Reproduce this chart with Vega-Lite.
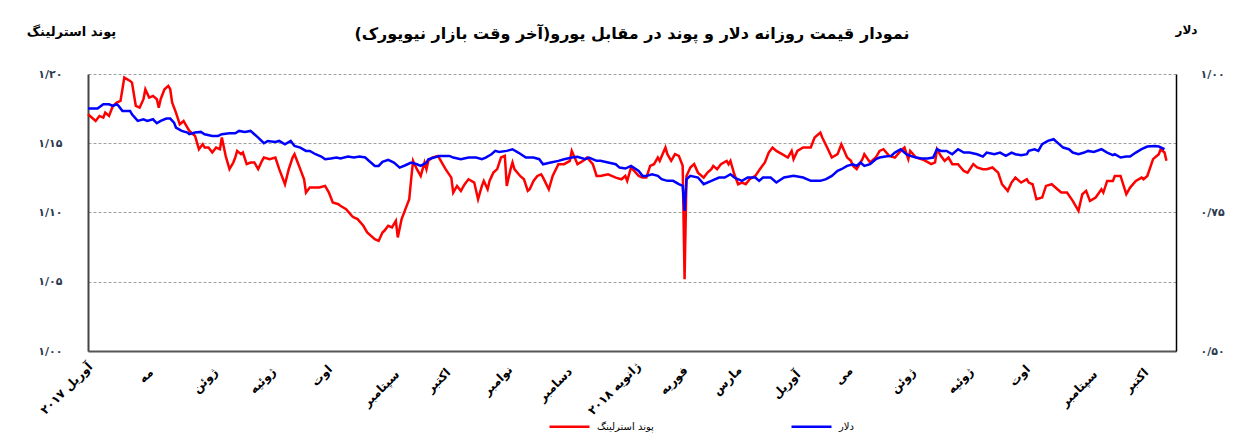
{
  "$schema": "https://vega.github.io/schema/vega-lite/v6.json",
  "width": 1088,
  "height": 277,
  "autosize": "none",
  "padding": {"left": 88, "top": 74, "right": 76, "bottom": 88},
  "background": "white",
  "config": {"view": {"stroke": null}, "font": "DejaVu Sans"},
  "title": {
    "text": "نمودار قیمت روزانه  دلار و پوند در مقابل یورو(آخر وقت بازار نیویورک)",
    "anchor": "middle", "frame": "group", "fontSize": 16, "fontWeight": "bold",
    "font": "DejaVu Sans", "color": "#000000", "offset": -19
  },
  "datasets": {
    "gbp": [
      {"date":"2017-04-01","value":1.1709},{"date":"2017-04-05","value":1.1661},{"date":"2017-04-07","value":1.1697},{"date":"2017-04-09","value":1.1685},{"date":"2017-04-10","value":1.1721},{"date":"2017-04-12","value":1.1697},{"date":"2017-04-14","value":1.1769},{"date":"2017-04-16","value":1.1794},{"date":"2017-04-18","value":1.1806},{"date":"2017-04-20","value":1.1974},{"date":"2017-04-23","value":1.1950},{"date":"2017-04-24","value":1.1938},{"date":"2017-04-26","value":1.1769},{"date":"2017-04-28","value":1.1757},{"date":"2017-04-30","value":1.1818},
      {"date":"2017-05-01","value":1.1890},{"date":"2017-05-03","value":1.1830},{"date":"2017-05-05","value":1.1842},{"date":"2017-05-07","value":1.1818},{"date":"2017-05-08","value":1.1757},{"date":"2017-05-09","value":1.1818},{"date":"2017-05-11","value":1.1890},{"date":"2017-05-13","value":1.1914},{"date":"2017-05-14","value":1.1890},{"date":"2017-05-15","value":1.1794},{"date":"2017-05-17","value":1.1721},{"date":"2017-05-19","value":1.1637},{"date":"2017-05-21","value":1.1661},{"date":"2017-05-22","value":1.1637},{"date":"2017-05-24","value":1.1589},{"date":"2017-05-26","value":1.1565},{"date":"2017-05-27","value":1.1553},{"date":"2017-05-29","value":1.1457},{"date":"2017-05-31","value":1.1493},
      {"date":"2017-06-01","value":1.1469},{"date":"2017-06-03","value":1.1469},{"date":"2017-06-05","value":1.1433},{"date":"2017-06-07","value":1.1469},{"date":"2017-06-09","value":1.1457},{"date":"2017-06-10","value":1.1541},{"date":"2017-06-12","value":1.1409},{"date":"2017-06-14","value":1.1313},{"date":"2017-06-16","value":1.1361},{"date":"2017-06-17","value":1.1397},{"date":"2017-06-18","value":1.1445},{"date":"2017-06-20","value":1.1421},{"date":"2017-06-21","value":1.1433},{"date":"2017-06-23","value":1.1349},{"date":"2017-06-25","value":1.1361},{"date":"2017-06-27","value":1.1361},{"date":"2017-06-29","value":1.1313},
      {"date":"2017-07-01","value":1.1373},{"date":"2017-07-02","value":1.1397},{"date":"2017-07-05","value":1.1385},{"date":"2017-07-08","value":1.1397},{"date":"2017-07-10","value":1.1313},{"date":"2017-07-13","value":1.1204},{"date":"2017-07-15","value":1.1313},{"date":"2017-07-17","value":1.1397},{"date":"2017-07-18","value":1.1421},{"date":"2017-07-21","value":1.1313},{"date":"2017-07-23","value":1.1240},{"date":"2017-07-24","value":1.1144},{"date":"2017-07-26","value":1.1180},{"date":"2017-07-31","value":1.1180},
      {"date":"2017-08-03","value":1.1192},{"date":"2017-08-05","value":1.1144},{"date":"2017-08-07","value":1.1072},{"date":"2017-08-10","value":1.1060},{"date":"2017-08-11","value":1.1048},{"date":"2017-08-14","value":1.1024},{"date":"2017-08-17","value":1.0976},{"date":"2017-08-18","value":1.0964},{"date":"2017-08-20","value":1.0952},{"date":"2017-08-23","value":1.0904},{"date":"2017-08-25","value":1.0856},{"date":"2017-08-29","value":1.0807},{"date":"2017-08-31","value":1.0795},
      {"date":"2017-09-02","value":1.0856},{"date":"2017-09-03","value":1.0868},{"date":"2017-09-05","value":1.0904},{"date":"2017-09-07","value":1.0892},{"date":"2017-09-09","value":1.0940},{"date":"2017-09-10","value":1.0820},{"date":"2017-09-12","value":1.0952},{"date":"2017-09-14","value":1.1024},{"date":"2017-09-16","value":1.1096},{"date":"2017-09-17","value":1.1240},{"date":"2017-09-18","value":1.1373},{"date":"2017-09-20","value":1.1313},{"date":"2017-09-22","value":1.1264},{"date":"2017-09-24","value":1.1361},{"date":"2017-09-25","value":1.1313},{"date":"2017-09-26","value":1.1373},{"date":"2017-09-28","value":1.1397},
      {"date":"2017-10-01","value":1.1409},{"date":"2017-10-02","value":1.1385},{"date":"2017-10-05","value":1.1313},{"date":"2017-10-08","value":1.1252},{"date":"2017-10-09","value":1.1144},{"date":"2017-10-11","value":1.1192},{"date":"2017-10-13","value":1.1156},{"date":"2017-10-15","value":1.1204},{"date":"2017-10-17","value":1.1240},{"date":"2017-10-20","value":1.1216},{"date":"2017-10-22","value":1.1096},{"date":"2017-10-24","value":1.1192},{"date":"2017-10-25","value":1.1228},{"date":"2017-10-27","value":1.1168},{"date":"2017-10-28","value":1.1228},{"date":"2017-10-30","value":1.1288},
      {"date":"2017-11-01","value":1.1313},{"date":"2017-11-03","value":1.1397},{"date":"2017-11-05","value":1.1409},{"date":"2017-11-06","value":1.1192},{"date":"2017-11-08","value":1.1313},{"date":"2017-11-09","value":1.1361},{"date":"2017-11-10","value":1.1313},{"date":"2017-11-13","value":1.1264},{"date":"2017-11-15","value":1.1240},{"date":"2017-11-17","value":1.1156},{"date":"2017-11-18","value":1.1168},{"date":"2017-11-20","value":1.1228},{"date":"2017-11-22","value":1.1264},{"date":"2017-11-24","value":1.1276},{"date":"2017-11-25","value":1.1252},{"date":"2017-11-28","value":1.1168},{"date":"2017-11-30","value":1.1264},
      {"date":"2017-12-03","value":1.1349},{"date":"2017-12-06","value":1.1349},{"date":"2017-12-09","value":1.1373},{"date":"2017-12-10","value":1.1445},{"date":"2017-12-13","value":1.1349},{"date":"2017-12-16","value":1.1373},{"date":"2017-12-18","value":1.1397},{"date":"2017-12-21","value":1.1349},{"date":"2017-12-23","value":1.1264},{"date":"2017-12-25","value":1.1264},{"date":"2017-12-29","value":1.1276},
      {"date":"2018-01-02","value":1.1252},{"date":"2018-01-05","value":1.1240},{"date":"2018-01-07","value":1.1264},{"date":"2018-01-08","value":1.1228},{"date":"2018-01-10","value":1.1325},{"date":"2018-01-14","value":1.1264},{"date":"2018-01-16","value":1.1252},{"date":"2018-01-18","value":1.1252},{"date":"2018-01-20","value":1.1337},{"date":"2018-01-22","value":1.1349},{"date":"2018-01-24","value":1.1397},{"date":"2018-01-25","value":1.1373},{"date":"2018-01-28","value":1.1469},{"date":"2018-01-29","value":1.1421},{"date":"2018-01-31","value":1.1373},
      {"date":"2018-02-02","value":1.1421},{"date":"2018-02-04","value":1.1409},{"date":"2018-02-06","value":1.1337},{"date":"2018-02-07","value":1.0519},{"date":"2018-02-08","value":1.1264},{"date":"2018-02-10","value":1.1325},{"date":"2018-02-12","value":1.1349},{"date":"2018-02-14","value":1.1288},{"date":"2018-02-17","value":1.1252},{"date":"2018-02-19","value":1.1288},{"date":"2018-02-21","value":1.1313},{"date":"2018-02-22","value":1.1337},{"date":"2018-02-24","value":1.1313},{"date":"2018-02-26","value":1.1349},
      {"date":"2018-03-01","value":1.1373},{"date":"2018-03-02","value":1.1349},{"date":"2018-03-03","value":1.1373},{"date":"2018-03-05","value":1.1276},{"date":"2018-03-07","value":1.1204},{"date":"2018-03-09","value":1.1216},{"date":"2018-03-11","value":1.1204},{"date":"2018-03-13","value":1.1240},{"date":"2018-03-16","value":1.1264},{"date":"2018-03-19","value":1.1325},{"date":"2018-03-21","value":1.1361},{"date":"2018-03-23","value":1.1433},{"date":"2018-03-25","value":1.1469},{"date":"2018-03-27","value":1.1445},{"date":"2018-03-30","value":1.1421},
      {"date":"2018-04-02","value":1.1397},{"date":"2018-04-04","value":1.1445},{"date":"2018-04-05","value":1.1385},{"date":"2018-04-07","value":1.1445},{"date":"2018-04-10","value":1.1469},{"date":"2018-04-14","value":1.1469},{"date":"2018-04-16","value":1.1541},{"date":"2018-04-19","value":1.1577},{"date":"2018-04-20","value":1.1541},{"date":"2018-04-23","value":1.1457},{"date":"2018-04-25","value":1.1397},{"date":"2018-04-28","value":1.1421},{"date":"2018-04-30","value":1.1493},
      {"date":"2018-05-03","value":1.1397},{"date":"2018-05-05","value":1.1373},{"date":"2018-05-06","value":1.1337},{"date":"2018-05-08","value":1.1313},{"date":"2018-05-11","value":1.1385},{"date":"2018-05-12","value":1.1421},{"date":"2018-05-15","value":1.1361},{"date":"2018-05-18","value":1.1397},{"date":"2018-05-20","value":1.1445},{"date":"2018-05-22","value":1.1457},{"date":"2018-05-25","value":1.1409},{"date":"2018-05-28","value":1.1397},{"date":"2018-05-31","value":1.1445},
      {"date":"2018-06-02","value":1.1469},{"date":"2018-06-04","value":1.1385},{"date":"2018-06-05","value":1.1445},{"date":"2018-06-08","value":1.1397},{"date":"2018-06-11","value":1.1385},{"date":"2018-06-13","value":1.1373},{"date":"2018-06-16","value":1.1349},{"date":"2018-06-18","value":1.1361},{"date":"2018-06-19","value":1.1457},{"date":"2018-06-21","value":1.1409},{"date":"2018-06-23","value":1.1373},{"date":"2018-06-25","value":1.1397},{"date":"2018-06-27","value":1.1349},{"date":"2018-06-30","value":1.1349},
      {"date":"2018-07-03","value":1.1300},{"date":"2018-07-05","value":1.1288},{"date":"2018-07-08","value":1.1349},{"date":"2018-07-10","value":1.1325},{"date":"2018-07-13","value":1.1313},{"date":"2018-07-15","value":1.1313},{"date":"2018-07-18","value":1.1325},{"date":"2018-07-21","value":1.1288},{"date":"2018-07-23","value":1.1204},{"date":"2018-07-26","value":1.1156},{"date":"2018-07-28","value":1.1216},{"date":"2018-07-30","value":1.1252},
      {"date":"2018-08-02","value":1.1216},{"date":"2018-08-05","value":1.1240},{"date":"2018-08-06","value":1.1216},{"date":"2018-08-08","value":1.1204},{"date":"2018-08-10","value":1.1096},{"date":"2018-08-13","value":1.1108},{"date":"2018-08-15","value":1.1192},{"date":"2018-08-18","value":1.1204},{"date":"2018-08-21","value":1.1168},{"date":"2018-08-23","value":1.1144},{"date":"2018-08-26","value":1.1144},{"date":"2018-08-29","value":1.1084},
      {"date":"2018-09-01","value":1.1012},{"date":"2018-09-03","value":1.1132},{"date":"2018-09-05","value":1.1156},{"date":"2018-09-07","value":1.1084},{"date":"2018-09-10","value":1.1108},{"date":"2018-09-13","value":1.1168},{"date":"2018-09-14","value":1.1144},{"date":"2018-09-16","value":1.1228},{"date":"2018-09-19","value":1.1228},{"date":"2018-09-20","value":1.1264},{"date":"2018-09-23","value":1.1264},{"date":"2018-09-26","value":1.1132},{"date":"2018-09-28","value":1.1180},
      {"date":"2018-10-01","value":1.1228},{"date":"2018-10-04","value":1.1252},{"date":"2018-10-05","value":1.1240},{"date":"2018-10-07","value":1.1264},{"date":"2018-10-10","value":1.1385},{"date":"2018-10-13","value":1.1421},{"date":"2018-10-14","value":1.1457},{"date":"2018-10-16","value":1.1433},{"date":"2018-10-17","value":1.1373}
    ],
    "usd": [
      {"date":"2017-04-01","value":0.9376},{"date":"2017-04-06","value":0.9376},{"date":"2017-04-09","value":0.9454},{"date":"2017-04-12","value":0.9454},{"date":"2017-04-14","value":0.9424},{"date":"2017-04-16","value":0.9454},{"date":"2017-04-17","value":0.9424},{"date":"2017-04-19","value":0.9333},{"date":"2017-04-23","value":0.9333},{"date":"2017-04-24","value":0.9273},{"date":"2017-04-27","value":0.9153},{"date":"2017-04-30","value":0.9183},
      {"date":"2017-05-02","value":0.9153},{"date":"2017-05-05","value":0.9183},{"date":"2017-05-07","value":0.9111},{"date":"2017-05-09","value":0.9153},{"date":"2017-05-12","value":0.9195},{"date":"2017-05-14","value":0.9195},{"date":"2017-05-16","value":0.9123},{"date":"2017-05-17","value":0.9033},{"date":"2017-05-20","value":0.8973},{"date":"2017-05-23","value":0.8943},{"date":"2017-05-24","value":0.8913},{"date":"2017-05-27","value":0.8943},{"date":"2017-05-30","value":0.8955},
      {"date":"2017-06-01","value":0.8913},{"date":"2017-06-05","value":0.8883},{"date":"2017-06-08","value":0.8883},{"date":"2017-06-10","value":0.8913},{"date":"2017-06-14","value":0.8931},{"date":"2017-06-17","value":0.8931},{"date":"2017-06-19","value":0.8973},{"date":"2017-06-22","value":0.8955},{"date":"2017-06-25","value":0.8973},{"date":"2017-06-27","value":0.8913},{"date":"2017-06-29","value":0.8852},
      {"date":"2017-07-02","value":0.8750},{"date":"2017-07-04","value":0.8792},{"date":"2017-07-08","value":0.8774},{"date":"2017-07-10","value":0.8792},{"date":"2017-07-13","value":0.8732},{"date":"2017-07-16","value":0.8792},{"date":"2017-07-18","value":0.8702},{"date":"2017-07-21","value":0.8672},{"date":"2017-07-24","value":0.8612},{"date":"2017-07-26","value":0.8612},{"date":"2017-07-29","value":0.8552},
      {"date":"2017-08-01","value":0.8510},{"date":"2017-08-03","value":0.8462},{"date":"2017-08-06","value":0.8474},{"date":"2017-08-09","value":0.8492},{"date":"2017-08-11","value":0.8474},{"date":"2017-08-15","value":0.8510},{"date":"2017-08-18","value":0.8492},{"date":"2017-08-21","value":0.8510},{"date":"2017-08-24","value":0.8492},{"date":"2017-08-25","value":0.8462},{"date":"2017-08-29","value":0.8341},{"date":"2017-08-31","value":0.8341},
      {"date":"2017-09-02","value":0.8414},{"date":"2017-09-05","value":0.8450},{"date":"2017-09-08","value":0.8402},{"date":"2017-09-11","value":0.8311},{"date":"2017-09-14","value":0.8353},{"date":"2017-09-17","value":0.8402},{"date":"2017-09-20","value":0.8371},{"date":"2017-09-22","value":0.8341},{"date":"2017-09-25","value":0.8402},{"date":"2017-09-26","value":0.8462},{"date":"2017-09-29","value":0.8492},
      {"date":"2017-10-02","value":0.8522},{"date":"2017-10-07","value":0.8522},{"date":"2017-10-09","value":0.8492},{"date":"2017-10-13","value":0.8462},{"date":"2017-10-17","value":0.8492},{"date":"2017-10-21","value":0.8492},{"date":"2017-10-24","value":0.8462},{"date":"2017-10-26","value":0.8492},{"date":"2017-10-29","value":0.8552},{"date":"2017-10-31","value":0.8612},
      {"date":"2017-11-02","value":0.8594},{"date":"2017-11-06","value":0.8612},{"date":"2017-11-09","value":0.8642},{"date":"2017-11-12","value":0.8582},{"date":"2017-11-16","value":0.8492},{"date":"2017-11-20","value":0.8492},{"date":"2017-11-23","value":0.8462},{"date":"2017-11-25","value":0.8371},{"date":"2017-11-29","value":0.8402},
      {"date":"2017-12-03","value":0.8432},{"date":"2017-12-06","value":0.8462},{"date":"2017-12-10","value":0.8492},{"date":"2017-12-13","value":0.8504},{"date":"2017-12-17","value":0.8462},{"date":"2017-12-19","value":0.8492},{"date":"2017-12-23","value":0.8432},{"date":"2017-12-25","value":0.8432},{"date":"2017-12-29","value":0.8402},
      {"date":"2018-01-02","value":0.8371},{"date":"2018-01-04","value":0.8311},{"date":"2018-01-07","value":0.8293},{"date":"2018-01-10","value":0.8341},{"date":"2018-01-14","value":0.8251},{"date":"2018-01-16","value":0.8161},{"date":"2018-01-18","value":0.8161},{"date":"2018-01-21","value":0.8191},{"date":"2018-01-24","value":0.8161},{"date":"2018-01-26","value":0.8101},{"date":"2018-01-29","value":0.8071},
      {"date":"2018-02-01","value":0.8071},{"date":"2018-02-04","value":0.8011},{"date":"2018-02-06","value":0.7981},{"date":"2018-02-07","value":0.7530},{"date":"2018-02-08","value":0.8101},{"date":"2018-02-10","value":0.8161},{"date":"2018-02-14","value":0.8131},{"date":"2018-02-17","value":0.8011},{"date":"2018-02-21","value":0.8071},{"date":"2018-02-25","value":0.8131},{"date":"2018-02-28","value":0.8131},
      {"date":"2018-03-03","value":0.8191},{"date":"2018-03-05","value":0.8131},{"date":"2018-03-09","value":0.8071},{"date":"2018-03-12","value":0.8131},{"date":"2018-03-16","value":0.8131},{"date":"2018-03-18","value":0.8071},{"date":"2018-03-20","value":0.8131},{"date":"2018-03-24","value":0.8131},{"date":"2018-03-27","value":0.8041},{"date":"2018-03-31","value":0.8131},
      {"date":"2018-04-05","value":0.8161},{"date":"2018-04-10","value":0.8131},{"date":"2018-04-14","value":0.8071},{"date":"2018-04-19","value":0.8071},{"date":"2018-04-22","value":0.8101},{"date":"2018-04-25","value":0.8161},{"date":"2018-04-28","value":0.8251},{"date":"2018-04-30","value":0.8281},
      {"date":"2018-05-03","value":0.8341},{"date":"2018-05-06","value":0.8371},{"date":"2018-05-08","value":0.8341},{"date":"2018-05-10","value":0.8402},{"date":"2018-05-12","value":0.8341},{"date":"2018-05-15","value":0.8371},{"date":"2018-05-18","value":0.8462},{"date":"2018-05-20","value":0.8492},{"date":"2018-05-23","value":0.8510},{"date":"2018-05-26","value":0.8522},{"date":"2018-05-28","value":0.8582},{"date":"2018-05-31","value":0.8642},
      {"date":"2018-06-03","value":0.8552},{"date":"2018-06-05","value":0.8522},{"date":"2018-06-08","value":0.8492},{"date":"2018-06-11","value":0.8474},{"date":"2018-06-14","value":0.8474},{"date":"2018-06-17","value":0.8492},{"date":"2018-06-19","value":0.8642},{"date":"2018-06-21","value":0.8612},{"date":"2018-06-24","value":0.8612},{"date":"2018-06-27","value":0.8552},{"date":"2018-06-30","value":0.8642},
      {"date":"2018-07-03","value":0.8582},{"date":"2018-07-06","value":0.8582},{"date":"2018-07-10","value":0.8552},{"date":"2018-07-13","value":0.8510},{"date":"2018-07-15","value":0.8582},{"date":"2018-07-19","value":0.8552},{"date":"2018-07-22","value":0.8582},{"date":"2018-07-25","value":0.8522},{"date":"2018-07-28","value":0.8582},{"date":"2018-07-30","value":0.8552},
      {"date":"2018-08-02","value":0.8534},{"date":"2018-08-05","value":0.8552},{"date":"2018-08-06","value":0.8612},{"date":"2018-08-09","value":0.8642},{"date":"2018-08-11","value":0.8612},{"date":"2018-08-13","value":0.8732},{"date":"2018-08-16","value":0.8792},{"date":"2018-08-19","value":0.8822},{"date":"2018-08-21","value":0.8762},{"date":"2018-08-24","value":0.8672},{"date":"2018-08-27","value":0.8642},{"date":"2018-08-29","value":0.8582},
      {"date":"2018-09-01","value":0.8552},{"date":"2018-09-04","value":0.8582},{"date":"2018-09-06","value":0.8612},{"date":"2018-09-09","value":0.8594},{"date":"2018-09-13","value":0.8642},{"date":"2018-09-16","value":0.8582},{"date":"2018-09-19","value":0.8534},{"date":"2018-09-20","value":0.8552},{"date":"2018-09-23","value":0.8492},{"date":"2018-09-26","value":0.8510},{"date":"2018-09-28","value":0.8510},
      {"date":"2018-10-01","value":0.8582},{"date":"2018-10-04","value":0.8642},{"date":"2018-10-07","value":0.8690},{"date":"2018-10-11","value":0.8702},{"date":"2018-10-13","value":0.8690},{"date":"2018-10-16","value":0.8642}
    ]
  },
  "layer": [
    {
      "data": {"name": "gbp"},
      "mark": {"type": "line", "strokeWidth": 2.5},
      "encoding": {
        "x": {
          "field": "date", "type": "temporal",
          "scale": {"type": "utc", "domain": [{"year": 2017, "month": 4, "date": 1, "utc": true}, {"year": 2018, "month": 10, "date": 22, "utc": true}]},
          "axis": {
            "title": null,
            "values": [
              {"year": 2017, "month": 4, "date": 1, "utc": true}, {"year": 2017, "month": 5, "date": 1, "utc": true}, {"year": 2017, "month": 6, "date": 1, "utc": true}, {"year": 2017, "month": 7, "date": 1, "utc": true}, {"year": 2017, "month": 8, "date": 1, "utc": true}, {"year": 2017, "month": 9, "date": 1, "utc": true}, {"year": 2017, "month": 10, "date": 1, "utc": true}, {"year": 2017, "month": 11, "date": 1, "utc": true}, {"year": 2017, "month": 12, "date": 1, "utc": true},
              {"year": 2018, "month": 1, "date": 1, "utc": true}, {"year": 2018, "month": 2, "date": 1, "utc": true}, {"year": 2018, "month": 3, "date": 1, "utc": true}, {"year": 2018, "month": 4, "date": 1, "utc": true}, {"year": 2018, "month": 5, "date": 1, "utc": true}, {"year": 2018, "month": 6, "date": 1, "utc": true}, {"year": 2018, "month": 7, "date": 1, "utc": true}, {"year": 2018, "month": 8, "date": 1, "utc": true}, {"year": 2018, "month": 9, "date": 1, "utc": true}, {"year": 2018, "month": 10, "date": 1, "utc": true}
            ],
            "labelExpr": "(utcyear(datum.value) == 2017 && utcmonth(datum.value) == 3) ? 'آوریل ۲۰۱۷' : (utcmonth(datum.value) == 0 ? 'ژانویه ۲۰۱۸' : ((utcyear(datum.value) == 2018 && utcmonth(datum.value) == 4) ? 'می' : ['ژانویه','فوریه','مارس','آوریل','مه','ژوئن','ژوئیه','اوت','سپتامبر','اکتبر','نوامبر','دسامبر'][utcmonth(datum.value)]))",
            "labelAngle": -45, "labelAlign": "center", "labelBaseline": "middle",
            "labelPadding": {
              "condition": [
                {"test": "utcmonth(datum.value) == 4 || utcmonth(datum.value) == 7", "value": 24},
                {"test": "(utcmonth(datum.value) == 3 && utcyear(datum.value) == 2018) || utcmonth(datum.value) == 11", "value": 33},
                {"test": "utcmonth(datum.value) == 8 || utcmonth(datum.value) == 0 || utcmonth(datum.value) == 3", "value": 37}
              ],
              "value": 29
            },
            "labelOffset": {
              "condition": {"test": "utcyear(datum.value) == 2017 && utcmonth(datum.value) == 3", "value": -22},
              "value": 0
            },
            "labelFontSize": 12, "labelFontWeight": "bold",
            "labelFont": "DejaVu Sans", "labelColor": "#000000",
            "labelOverlap": false, "labelFlush": false, "labelBound": false,
            "ticks": false, "grid": false, "domainColor": "#555555", "domainWidth": 2
          }
        },
        "y": {
          "field": "value", "type": "quantitative",
          "scale": {"domain": [1.0, 1.2], "zero": false, "nice": false},
          "axis": {
            "title": "پوند استرلینگ", "titleAngle": 0, "titleX": -17, "titleY": -43,
            "titleAlign": "center", "titleBaseline": "middle", "titleFontSize": 13,
            "titleFontWeight": "bold", "titleColor": "#000000", "titleFont": "DejaVu Sans",
            "values": [1.0, 1.05, 1.1, 1.15, 1.2],
            "labelExpr": "datum.value > 1.19 ? '۱/۲۰' : (datum.value > 1.14 ? '۱/۱۵' : (datum.value > 1.09 ? '۱/۱۰' : (datum.value > 1.04 ? '۱/۰۵' : '۱/۰۰')))",
            "labelPadding": 26, "labelFontSize": 11, "labelFontWeight": "bold",
            "labelColor": "#2d3a4f", "labelFont": "DejaVu Sans",
            "ticks": false, "grid": true, "gridDash": [3, 2], "gridColor": "#a0a0a0",
            "domainColor": "#444444", "domainWidth": 2
          }
        },
        "color": {
          "datum": "پوند استرلینگ",
          "scale": {"domain": ["پوند استرلینگ", "دلار"], "range": ["#ff0000", "#0000ff"]},
          "legend": {
            "orient": "none", "legendX": 460, "legendY": 331, "direction": "horizontal",
            "title": null, "symbolType": "stroke", "symbolSize": 1600, "symbolStrokeWidth": 2.5,
            "labelFontSize": 10, "labelFont": "DejaVu Sans", "labelColor": "#000000",
            "columnPadding": 132, "labelOffset": 6
          }
        }
      }
    },
    {
      "data": {"name": "usd"},
      "mark": {"type": "line", "strokeWidth": 2.5},
      "encoding": {
        "x": {"field": "date", "type": "temporal"},
        "y": {
          "field": "value", "type": "quantitative",
          "scale": {"domain": [0.5, 1.0], "zero": false, "nice": false},
          "axis": {
            "orient": "right",
            "title": "دلار", "titleAngle": 0, "titleX": 10, "titleY": -45,
            "titleAlign": "center", "titleBaseline": "middle", "titleFontSize": 12,
            "titleFontWeight": "bold", "titleColor": "#000000", "titleFont": "DejaVu Sans",
            "values": [0.5, 0.75, 1.0],
            "labelExpr": "datum.value > 0.9 ? '۱/۰۰' : (datum.value > 0.7 ? '۰/۷۵' : '۰/۵۰')",
            "labelPadding": 24, "labelFontSize": 11, "labelFontWeight": "bold",
            "labelColor": "#2d3a4f", "labelFont": "DejaVu Sans",
            "ticks": false, "grid": false, "domainColor": "#000000", "domainWidth": 1.5
          }
        },
        "color": {"datum": "دلار"}
      }
    }
  ],
  "resolve": {"scale": {"y": "independent"}}
}
